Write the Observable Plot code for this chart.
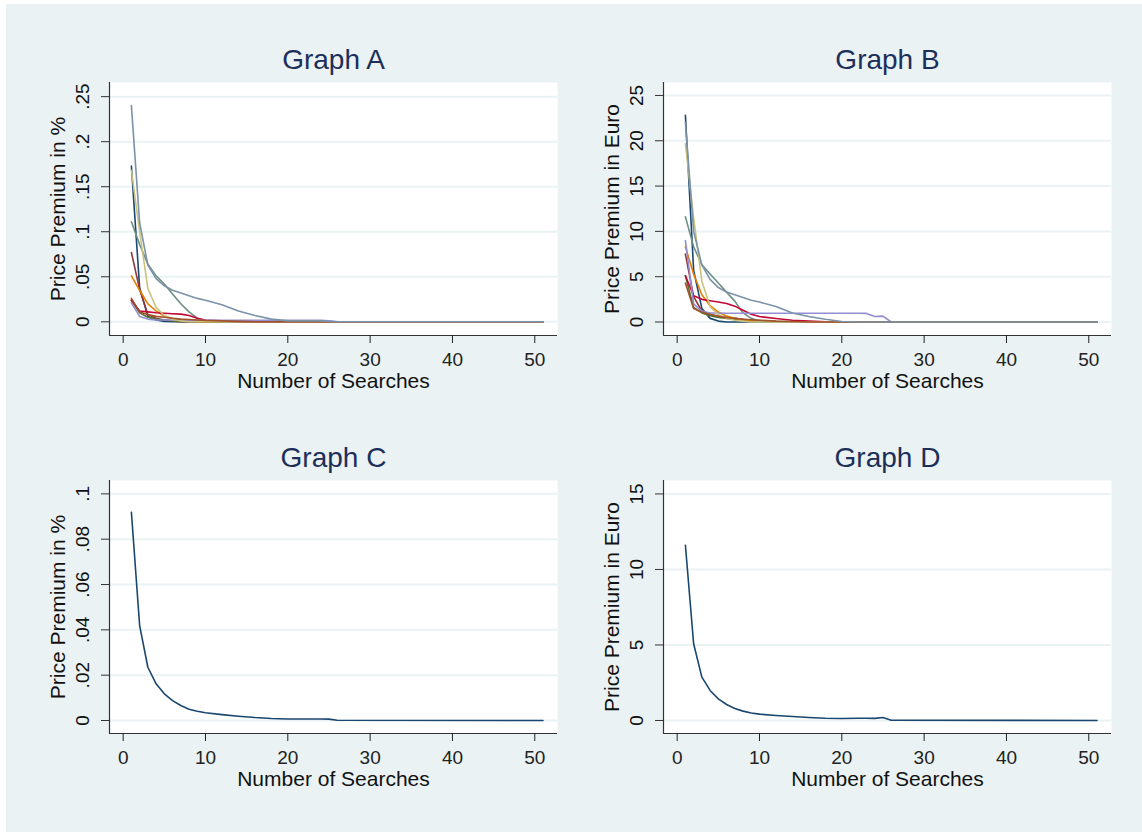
<!DOCTYPE html>
<html><head><meta charset="utf-8">
<script src="https://cdn.jsdelivr.net/npm/d3@7"></script>
<script src="https://cdn.jsdelivr.net/npm/@observablehq/plot@0.6"></script>
<style>
body{margin:0;background:#fff;}
#wrap{position:relative;width:1142px;height:832px;background:#fff;overflow:hidden;font-family:"Liberation Sans",Arial,Helvetica,sans-serif;}
#bg{position:absolute;left:6px;top:4px;width:1136px;height:828px;background:#EAF2F3;}
.panel{position:absolute;}
</style></head><body><div id="wrap"><div id="bg"></div></div>
<script>
// ---------- data ----------
const searches = [1,2,3,4,5,6,7,8,9,10,12,14,16,18,20,22,23,24,25,26,51];
const seriesNames = ["S1","S2","S3","S4","S5","S6","S7","S8","S9","S10"];
const seriesColors = ["#1a476f","#90353b","#55752f","#e37e00","#6e8e84","#c10534","#938dd2","#cac27e","#a0522d","#7b92a8"];

// Graph A: price premium in % (fraction) per product
const s1A  = [.173,.038,.006,.002,.0005,0,0,0,0,0,0,0,0,0,0,0,0,0,0,0,0];
const s2A  = [.077,.036,.008,.004,.002,.001,0,0,0,0,0,0,0,0,0,0,0,0,0,0,0];
const s3A  = [.024,.010,.005,.003,.002,.001,.0005,0,0,0,0,0,0,0,0,0,0,0,0,0,0];
const s4A  = [.051,.035,.020,.012,.0065,.0037,.002,.001,0,0,0,0,0,0,0,0,0,0,0,0,0];
const s5A  = [.111,.086,.064,.051,.042,.031,.020,.011,.004,.001,0,0,0,0,0,0,0,0,0,0,0];
const s6A  = [.024,.012,.011,.010,.0095,.009,.0085,.007,.004,.002,.001,.0005,0,0,0,0,0,0,0,0,0];
const s7A  = [.021,.006,.003,.002,.002,.0018,.0018,.0018,.0018,.0018,.0018,.0018,.0018,.0018,.0018,.0018,.0018,.0017,.001,0,0];
const s8A  = [.168,.100,.037,.016,.007,.003,.001,0,0,0,0,0,0,0,0,0,0,0,0,0,0];
const s9A  = [.026,.011,.008,.006,.005,.004,.003,.0025,.002,.0015,.001,.0005,0,0,0,0,0,0,0,0,0];
const s10A = [.240,.110,.063,.048,.040,.035,.032,.029,.026,.024,.019,.012,.007,.003,.001,.001,.001,.001,.0005,0,0];

// Graph B: price premium in Euro per product
const s1B  = [22.8,5.7,1.5,0.4,0.1,0,0,0,0,0,0,0,0,0,0,0,0,0,0,0,0];
const s2B  = [7.5,2.8,1.2,0.8,0.6,0.5,0.4,0.3,0.2,0.15,0.05,0,0,0,0,0,0,0,0,0,0];
const s3B  = [5.1,1.6,1.0,0.7,0.5,0.4,0.3,0.2,0.15,0.1,0.05,0,0,0,0,0,0,0,0,0,0];
const s4B  = [8.3,5.3,3.0,1.8,1.1,0.65,0.4,0.25,0.15,0.1,0.03,0,0,0,0,0,0,0,0,0,0];
const s5B  = [11.6,8.3,6.3,5.3,4.3,3.3,2.3,1.0,0.4,0.1,0,0,0,0,0,0,0,0,0,0,0];
const s6B  = [5.1,2.9,2.5,2.35,2.2,2.05,1.75,1.3,0.85,0.6,0.38,0.2,0.1,0.03,0,0,0,0,0,0,0];
const s7B  = [9.0,2.0,1.2,1.0,1.0,0.97,0.97,0.97,0.97,0.97,0.97,0.97,0.97,0.97,0.97,0.97,0.95,0.6,0.65,0,0];
const s8B  = [19.7,11.5,4.5,1.7,0.8,0.4,0.2,0.1,0,0,0,0,0,0,0,0,0,0,0,0,0];
const s9B  = [4.3,1.5,1.1,0.85,0.65,0.5,0.4,0.3,0.25,0.2,0.1,0.05,0,0,0,0,0,0,0,0,0];
const s10B = [22.0,10.0,6.3,4.7,3.8,3.3,3.0,2.7,2.4,2.2,1.7,1.0,0.6,0.3,0.05,0,0,0,0,0,0];

// Graph C / D: average premium
const avgC = [0.0919,0.0419,0.0235,0.0162,0.0118,0.0088,0.0066,0.0050,0.0041,0.0034,0.0026,0.0019,0.0013,0.0009,0.0007,0.0007,0.0007,0.0007,0.0006,0.0001,0];
const avgD = [11.6,5.08,2.87,1.99,1.43,1.06,0.80,0.62,0.50,0.42,0.33,0.26,0.20,0.15,0.13,0.15,0.15,0.14,0.20,0.02,0];

const xTicks = [0,10,20,30,40,50];
const yTicksA = [0,.05,.1,.15,.2,.25];
const yTickLabelsA = ["0",".05",".1",".15",".2",".25"];
const yTicksB = [0,5,10,15,20,25];
const yTickLabelsB = ["0","5","10","15","20","25"];
const yTicksC = [0,.02,.04,.06,.08,.1];
const yTickLabelsC = ["0",".02",".04",".06",".08",".1"];
const yTicksD = [0,5,10,15];
const yTickLabelsD = ["0","5","10","15"];
const xLabel = "Number of Searches";
const titles = ["Graph A","Graph B","Graph C","Graph D"];
const yLabelPct = "Price Premium in %";
const yLabelEuro = "Price Premium in Euro";

// ---------- drawing ----------
const FONT = '"Liberation Sans", Arial, Helvetica, sans-serif';
const xDomain = [-1.66, 52.76];

function panel({title, yLabel, yTicks, yTickLabels, yDomain, series, left, top}) {
  const rows = [];
  series.forEach((vals, k) => vals.forEach((v, i) => rows.push({x: searches[i], y: v, s: seriesNames[k]})));
  const chart = Plot.plot({
    width: 571, height: 372,
    marginLeft: 109, marginRight: 14, marginTop: 52, marginBottom: 67,
    style: {background: "transparent", fontFamily: FONT, overflow: "visible"},
    x: {domain: xDomain},
    y: {domain: yDomain},
    color: {domain: seriesNames, range: seriesColors},
    marks: [
      Plot.frame({fill: "white", stroke: null}),
      Plot.ruleY(yTicks, {stroke: "#EAF2F3", strokeWidth: 2}),
      Plot.line(rows, {x: "x", y: "y", z: "s", stroke: "s", strokeWidth: 1.6}),
      Plot.ruleX([xDomain[0]], {stroke: "#333", strokeWidth: 1.2}),
      Plot.ruleY([yDomain[0]], {stroke: "#333", strokeWidth: 1.2}),
      Plot.axisX(xTicks, {tickSize: 8, tickPadding: 9, fontSize: 19, label: null, color: "#222"}),
      Plot.axisY(yTicks, {tickSize: 8, tickFormat: () => "", label: null, color: "#333"}),
      Plot.text(yTicks, {y: d => d, text: (d, i) => yTickLabels[i], frameAnchor: "left", dx: -27, rotate: -90,
        fontSize: 19, fill: "#111", textAnchor: "middle", lineAnchor: "middle"}),
      Plot.text([yLabel], {text: d => d, frameAnchor: "left", dx: -51, rotate: -90, fontSize: 21, fill: "#111",
        textAnchor: "middle", lineAnchor: "middle"}),
      Plot.text([xLabel], {text: d => d, frameAnchor: "bottom", dy: 46, fontSize: 21, fill: "#111",
        textAnchor: "middle", lineAnchor: "middle"}),
      Plot.text([title], {text: d => d, frameAnchor: "top", dy: -14, fontSize: 28, fill: "#1c2f5a",
        textAnchor: "middle", lineAnchor: "bottom"})
    ]
  });
  chart.classList.add("panel");
  chart.style.left = left + "px";
  chart.style.top = top + "px";
  document.getElementById("wrap").appendChild(chart);
}

panel({title: titles[0], yLabel: yLabelPct, yTicks: yTicksA, yTickLabels: yTickLabelsA,
  yDomain: [-0.0152, 0.2657], series: [s1A,s2A,s3A,s4A,s5A,s6A,s7A,s8A,s9A,s10A], left: 0, top: 30});
panel({title: titles[1], yLabel: yLabelEuro, yTicks: yTicksB, yTickLabels: yTickLabelsB,
  yDomain: [-1.49, 26.43], series: [s1B,s2B,s3B,s4B,s5B,s6B,s7B,s8B,s9B,s10B], left: 554, top: 30});
panel({title: titles[2], yLabel: yLabelPct, yTicks: yTicksC, yTickLabels: yTickLabelsC,
  yDomain: [-0.00573, 0.1059], series: [avgC], left: 0, top: 428});
panel({title: titles[3], yLabel: yLabelEuro, yTicks: yTicksD, yTickLabels: yTickLabelsD,
  yDomain: [-0.861, 15.89], series: [avgD], left: 554, top: 428});
</script>
</body></html>
